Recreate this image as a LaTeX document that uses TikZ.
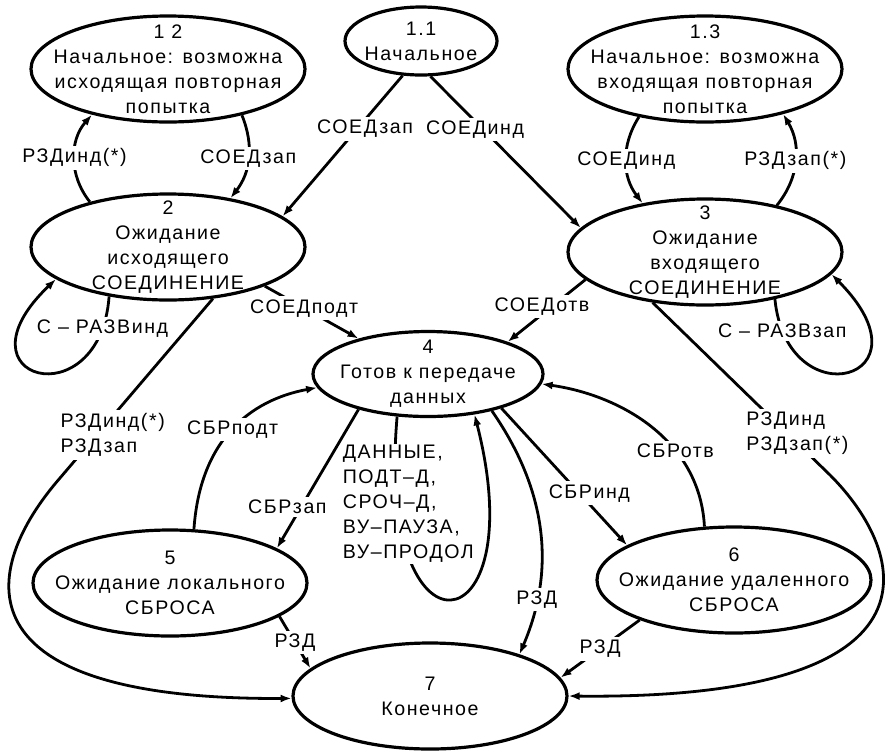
\documentclass[tikz,border=0pt]{standalone}
\usepackage{fontspec}
\setmainfont{Liberation Sans}[LetterSpace=8]
\usetikzlibrary{shapes.geometric}
\usetikzlibrary{arrows.meta}

\begin{document}
\begin{tikzpicture}[
                x=0.5pt, y=-0.5pt,
                every node/.style = {font=\fontsize{9.8}{12.5}\selectfont},
                state/.style = {
                    draw,
                    ellipse,
                    line width = 1.6pt,
                    minimum width = #1,
                    minimum height = 53pt,
                    inner sep = 0pt
                },
                state/.default = 137pt,
                every label/.style = {align=center, inner sep=0pt},
                trans/.style = {line width = 1.4pt, -{Latex[length=5.5pt, width=4pt]}},
                lbl/.style = {fill=white, inner sep=1.5pt}
            ]
            \useasboundingbox (0,0) rectangle (895,751);
            % 
            \node[state=76pt, minimum height=34pt, label={center:1.1\\Начальное}] (s11) at (421,41) {};
            \node[state, label={center:1 2\\Начальное: возможна\\исходящая повторная\\попытка}] (s12) at (168,69) {};
            \node[state, label={center:1.3\\Начальное: возможна\\входящая повторная\\попытка}] (s13) at (705,69) {};
            % 
            \node[state, label={center:2\\Ожидание\\исходящего\\СОЕДИНЕНИЕ}] (s2) at (168,247) {};
            \node[state, label={center:3\\Ожидание\\входящего\\СОЕДИНЕНИЕ}] (s3) at (705,252) {};
            % 
            \node[state=115pt, minimum height=42.5pt, label={center:4\\Готов к передаче\\данных}] (s4) at (428,374) {};
            % 
            \node[state, label={center:5\\Ожидание локального\\СБРОСА}] (s5) at (170,583) {};
            \node[state, label={center:6\\Ожидание удаленного\\СБРОСА}] (s6) at (734,580) {};
            \node[state, label={center:7\\Конечное}] (s7) at (430,696) {};
            % 
            \draw[trans] (s11.242) -- node[lbl, pos=0.38, xshift=4pt]{СОЕДзап} (s2.15);
            \draw[trans] (s11.285) -- node[lbl, pos=0.35, xshift=-4pt]{СОЕДинд} (s3.169);
            % 
            \draw[trans] (s2.150) to[bend left=40] node[lbl]{РЗДинд(*)} (s12.211);
            \draw[trans] (s12.328) to[bend left=30] node[lbl]{СОЕДзап} (s2.38);
            \draw[trans] (s13.216) to[bend right=35] node[lbl]{СОЕДинд} (s3.142);
            \draw[trans] (s3.33) to[bend right=35] node[lbl]{РЗДзап(*)} (s13.330);
            % 
            \draw[trans] (s2.220) .. controls (100,420) and (-50,380) .. node[lbl, pos=0.1]{С – РАЗВинд} (s2.196);
            \draw[trans] (s3.326) .. controls (787,420) and (937,380) .. node[lbl, pos=0.1]{С – РАЗВзап} (s3.350);
            % 
            \draw[trans] (s2.338) -- node[lbl, pos=0.42]{СОЕДподт} (s4.153);
            \draw[trans] (s3.193) -- node[lbl, pos=0.43, xshift=-5pt]{СОЕДотв} (s4.22);
            % 
            \draw[trans] (s4.234) .. controls (375,670) and (535,650) .. node[lbl, pos=0.12, xshift=6pt, yshift=-4pt, align=left, inner sep=0.5pt]{ДАННЫЕ,\\ПОДТ–Д,\\СРОЧ–Д,\\ВУ–ПАУЗА,\\ВУ–ПРОДОЛ} (s4.319);
            % 
            \draw[trans] (s4.207) -- node[lbl, pos=0.7, xshift=-7pt]{СБРзап} (s5.18);
            \draw[trans] (s5.66) .. controls (200,440) and (250,400) .. node[lbl, pos=0.5]{СБРподт} (s4.187);
            \draw[trans] (s4.335) -- node[lbl, pos=0.62, xshift=5pt]{СБРинд} (s6.162);
            \draw[trans] (s6.119) .. controls (700,440) and (620,395) .. node[lbl, pos=0.35]{СБРотв} (s4.355);
            % 
            \draw[trans] (s4.330) .. controls (540,480) and (560,560) .. node[lbl, pos=0.8]{РЗД} (s7.25);
            \draw[trans] (s5.343) -- node[lbl]{РЗД} (s7.167);
            \draw[trans] (s6.203) -- node[lbl]{РЗД} (s7.8);
            % 
            \draw[trans] (s2.311) -- node[lbl, pos=0.76, xshift=8pt, align=left]{РЗДинд(*)\\РЗДзап} (60,478) .. controls (-20,570) and (-45,700) .. (s7.181);
            \draw[trans] (s3.224) -- node[lbl, pos=0.76, xshift=5pt, align=left]{РЗДинд\\РЗДзап(*)} (830,475) .. controls (910,555) and (950,700) .. (s7.0);
            % 
        \end{tikzpicture}
\end{document}
